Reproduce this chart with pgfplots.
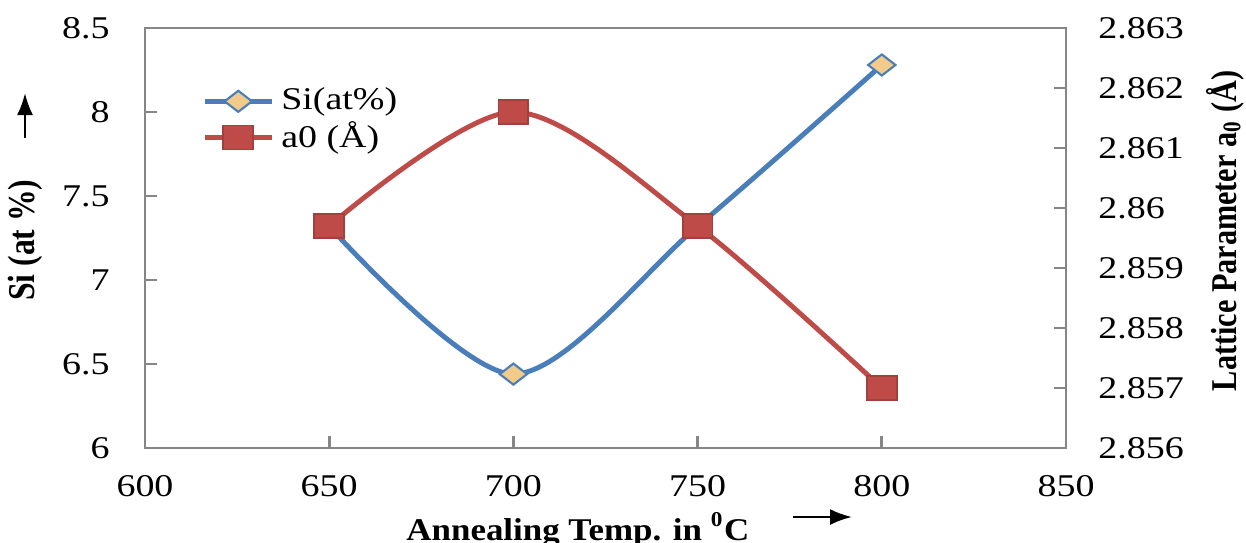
\documentclass[border=0pt]{standalone}
\usepackage{fontspec}
\setmainfont{Liberation Serif}[FakeStretch=1.2]
\newfontfamily\rotfont{Liberation Serif}
\usepackage{pgfplots}
\pgfplotsset{compat=1.18}
\usetikzlibrary{arrows.meta}
\definecolor{siblue}{HTML}{4A7EBB}
\definecolor{ared}{HTML}{BE4B48}
\definecolor{tanfill}{HTML}{F2CA8A}
\definecolor{axgray}{HTML}{868686}

\pgfplotsset{
  base/.style={
    scale only axis, width=9.21cm, height=4.2cm,
    xmin=600, xmax=850, xtick={600,650,...,850},
    axis line style={axgray, line width=0.8pt},
    tick style={axgray, line width=0.8pt},
    major tick length=1.2mm,
    tick align=inside,
    /pgf/number format/assume math mode=true,
    tick label style={font=\fontsize{9}{10}\selectfont},
    label style={font=\fontsize{9}{11}\selectfont},
    clip=false,
  },
  legend image code/.code={
    \draw[mark repeat=2,mark phase=2,#1]
      plot coordinates {(0cm,0cm) (0.335cm,0cm) (0.67cm,0cm)};},
}

\begin{document}
\begin{tikzpicture}
\begin{axis}[base, name=ax1,
  ymin=6, ymax=8.5, ytick={6,6.5,7,7.5,8,8.5},
  ytick pos=left, xtick pos=bottom,
  yticklabel style={xshift=-2.3mm},
  xticklabel style={yshift=-1.5mm},
  xlabel={\scalebox{0.92}[1]{\bfseries Annealing Temp. in \textsuperscript{0}C}},
  xlabel style={at={(axis description cs:0.47,0)}, anchor=base, yshift=-0.92cm},
  ylabel={\rotfont\bfseries\scalebox{1}[1.2]{Si (at \%)}},
  ylabel style={at={(axis description cs:-0.1303,0.495)}, anchor=center},
]
\addplot[siblue, line width=1.4pt, smooth, mark=diamond*,
  mark options={fill=tanfill, draw=siblue, line width=0.6pt, xscale=1.73}, mark size=3pt]
  coordinates {(650,7.32) (700,6.44) (750,7.32) (800,8.28)};
\end{axis}
\begin{axis}[base, name=ax2,
  axis x line=none, axis y line*=right,
  ymin=2.856, ymax=2.863,
  ytick={2.856,2.857,2.858,2.859,2.860,2.861,2.862,2.863},
  yticklabel style={xshift=2.0mm, /pgf/number format/fixed, /pgf/number format/precision=3},
  scaled y ticks=false,
  ylabel={\rotfont\fontsize{8.6}{10}\selectfont\bfseries\scalebox{1}[1.2]{Lattice Parameter a\textsubscript{0} (Å)}},
  ylabel style={at={(axis description cs:1.1726,0.517)}, anchor=center},
  legend style={at={(axis description cs:0.05,0.893)}, anchor=north west,
    draw=none, fill=none, font=\fontsize{9}{11}\selectfont,
    row sep=-2pt},
  legend cell align=left,
]
\addlegendimage{siblue, line width=1.4pt, mark=diamond*,
  mark options={fill=tanfill, draw=siblue, line width=0.6pt, xscale=1.73}, mark size=3pt}
\addlegendentry{Si(at\%)}
\addplot[ared, line width=1.4pt, smooth, mark=square*,
  mark options={fill=ared, draw=ared!85!black, line width=0.5pt, xscale=1.25}, mark size=3.4pt]
  coordinates {(650,2.8597) (700,2.8616) (750,2.8597) (800,2.8570)};
\addlegendentry{a0 (Å)}
\end{axis}
\draw[-{Latex[length=2.2mm,width=1.6mm]}, line width=0.7pt]
  ([xshift=-1.2cm,yshift=3.1cm]ax1.south west) -- ++(0,0.45cm);
\draw[-{Latex[length=2.2mm,width=1.6mm]}, line width=0.7pt]
  ([xshift=6.48cm,yshift=-0.69cm]ax1.south west) -- ++(0.59cm,0);
\pgfresetboundingbox
\path ([xshift=-1.45cm,yshift=-0.94cm]ax1.south west)
  rectangle ([xshift=1.80cm,yshift=0.28cm]ax1.north east);
\end{tikzpicture}
\end{document}
